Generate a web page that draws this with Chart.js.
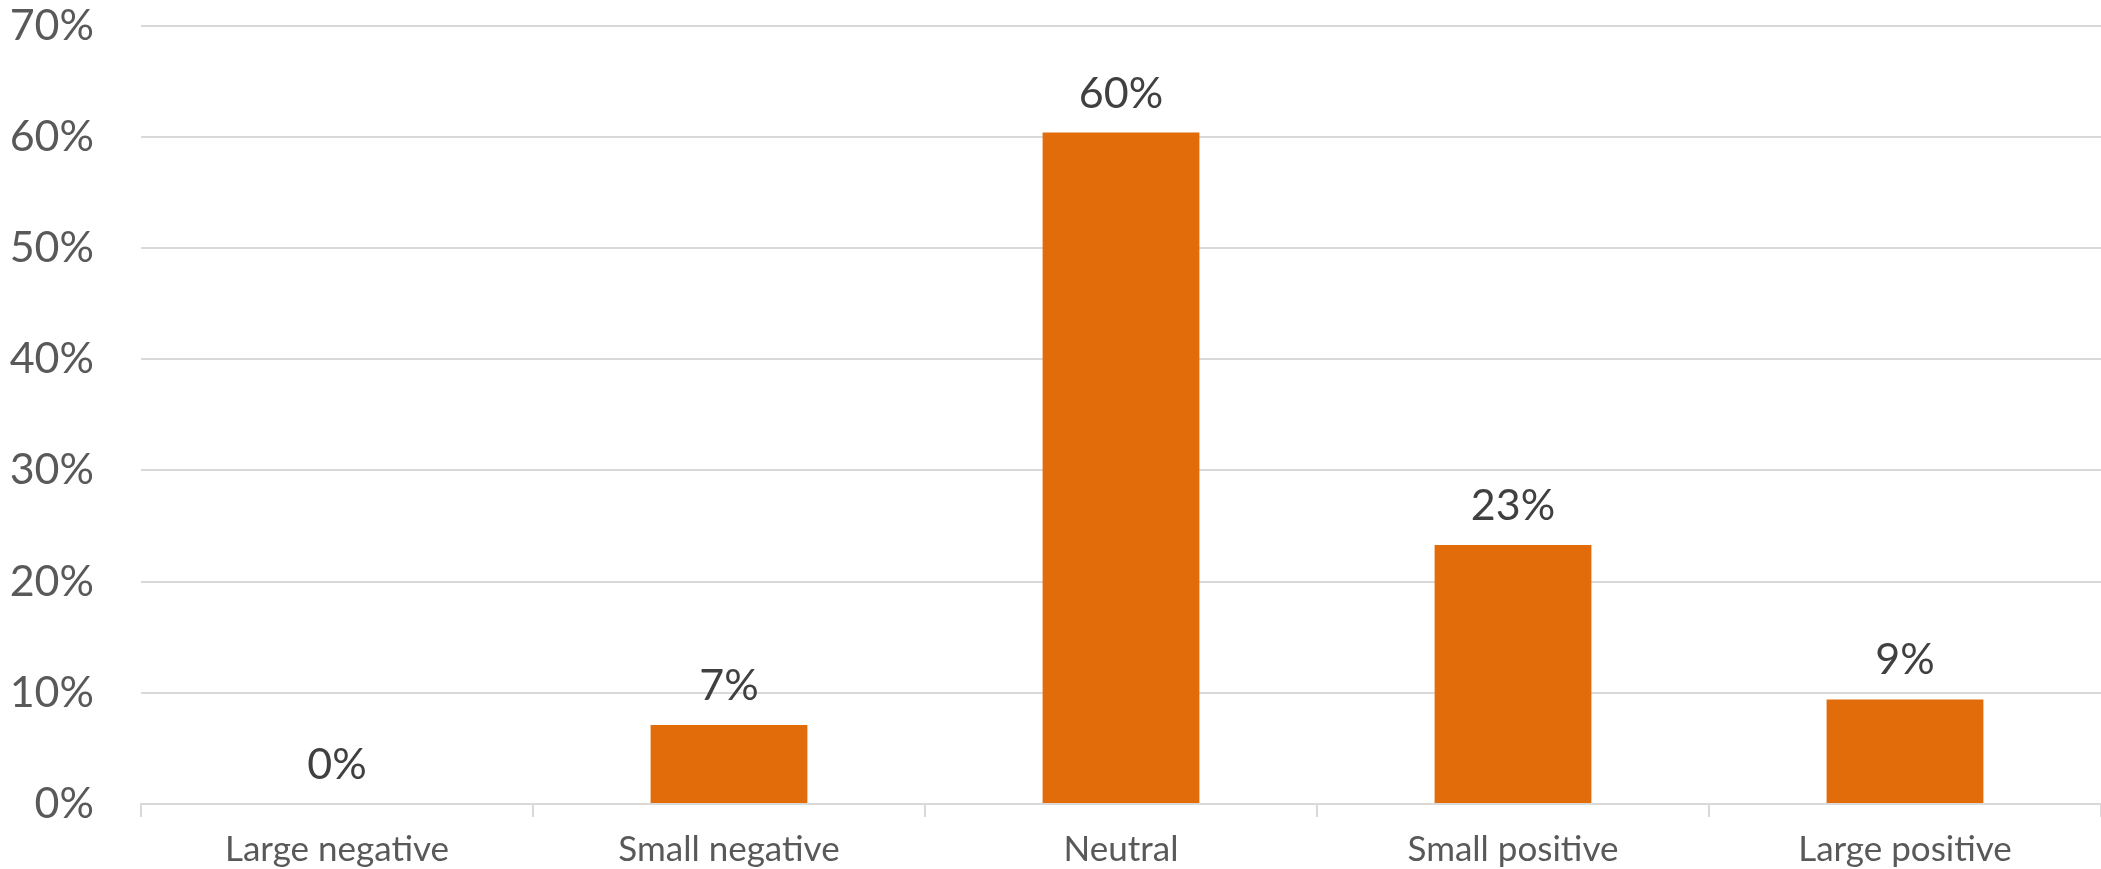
<!DOCTYPE html>
<html>
<head>
<meta charset="utf-8">
<script src="https://cdn.jsdelivr.net/npm/chart.js@4"></script>
<style>
  html, body { margin: 0; padding: 0; background: #fff; }
  #chart { display: block; }
</style>
</head>
<body>
<canvas id="chart" width="2101" height="869"></canvas>
<script>
const categories = ["Large negative", "Small negative", "Neutral", "Small positive", "Large positive"];
const shares = [0.0, 0.071, 0.604, 0.233, 0.094];
const yTickLabels = ["0%", "10%", "20%", "30%", "40%", "50%", "60%", "70%"];

const barColor = "#E36C0A";
const gridColor = "#d9d9d9";

// draws the percentage above each bar
const valueLabels = {
  id: "valueLabels",
  afterDatasetsDraw(chart) {
    const ctx = chart.ctx;
    const meta = chart.getDatasetMeta(0);
    ctx.save();
    ctx.font = "43px Lato";
    ctx.fillStyle = "#404040";
    ctx.textAlign = "center";
    ctx.textBaseline = "alphabetic";
    meta.data.forEach((bar, i) => {
      ctx.fillText(Math.round(shares[i] * 100) + "%", bar.x, bar.y - 25);
    });
    ctx.restore();
  },
};

new Chart(document.getElementById("chart").getContext("2d"), {
  type: "bar",
  data: {
    labels: categories,
    datasets: [
      {
        data: shares,
        backgroundColor: barColor,
        borderWidth: 0,
        barPercentage: 0.4,
        categoryPercentage: 1,
      },
    ],
  },
  options: {
    responsive: false,
    devicePixelRatio: 1,
    animation: false,
    layout: { padding: 0 },
    plugins: {
      legend: { display: false },
      tooltip: { enabled: false },
    },
    scales: {
      x: {
        offset: true,
        afterFit: (s) => { s.height = 65; },
        grid: {
          offset: true,
          drawOnChartArea: false,
          drawTicks: true,
          tickLength: 13,
          color: gridColor,
          lineWidth: 2,
        },
        border: { display: true, color: gridColor, width: 2 },
        ticks: {
          color: "#595959",
          font: { family: "Lato", size: 35 },
          padding: 12,
          maxRotation: 0,
        },
      },
      y: {
        min: 0,
        max: 0.7,
        afterFit: (s) => { s.width = 141; },
        // invisible tick marks make the gap between labels and plot
        grid: { color: gridColor, lineWidth: 2, drawTicks: true, tickLength: 47, tickColor: "transparent" },
        border: { display: false },
        ticks: {
          stepSize: 0.1,
          color: "#595959",
          font: { family: "Lato", size: 43 },
          padding: 0,
          callback: (v, i) => yTickLabels[i],
        },
      },
    },
  },
  plugins: [valueLabels],
});
</script>
</body>
</html>
